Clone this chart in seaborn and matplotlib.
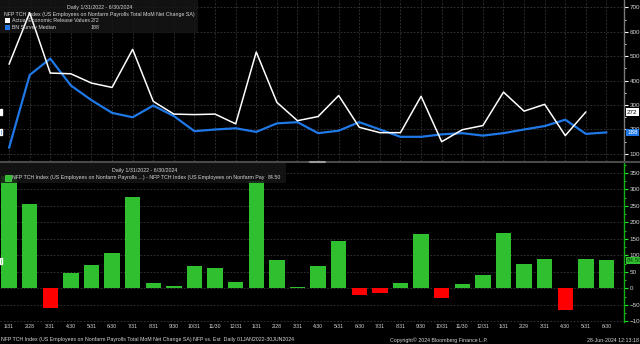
import numpy as np
import pandas as pd
import matplotlib
matplotlib.use('Agg')
import matplotlib.pyplot as plt
import seaborn as sns
from matplotlib.patches import Rectangle
from matplotlib.ticker import MultipleLocator

months = ['1/31', '2/28', '3/31', '4/30', '5/31', '6/30', '7/31', '8/31', '9/30', '10/31', '11/30', '12/31',
          '1/31', '2/28', '3/31', '4/30', '5/31', '6/30', '7/31', '8/31', '9/30', '10/31', '11/30', '12/31',
          '1/31', '2/29', '3/31', '4/30', '5/31', '6/30']
actual = [467, 678, 431, 428, 390, 372, 528, 315, 263, 261, 263, 223,
          517, 311, 236, 253, 339, 209, 187, 187, 336, 150, 199, 216,
          353, 275, 303, 175, 272, np.nan]
survey = [125, 423, 490, 380, 320, 268, 250, 298, 255, 193, 200, 205,
          190, 225, 230, 185, 195, 230, 200, 170, 170, 180, 185, 175,
          185, 200, 214, 240, 182, 188]
surprise = [341, 255, -59, 47, 71, 106, 278, 17, 8, 67, 63, 18,
            325, 85, 5, 67, 144, -21, -13, 17, 166, -30, 14, 41,
            168, 75, 89, -65, 90, 84.5]

sns.set_style('dark')
plt.rcParams['font.family'] = ['Liberation Sans', 'DejaVu Sans']

idx = np.arange(len(months))
df = pd.DataFrame({'idx': idx, 'actual': actual, 'survey': survey, 'surprise': surprise})
df['sign'] = np.where(df['surprise'] >= 0, 'pos', 'neg')

W, H = 640, 344
fig = plt.figure(figsize=(6.4, 3.44), dpi=100, facecolor='black')

def fx(px):
    return px / W

def fy(py):
    return 1 - py / H

ax_right = 624
axt = fig.add_axes([0, fy(161), fx(ax_right), 161 / H])
axb = fig.add_axes([0, fy(322), fx(ax_right), 159 / H])

GRID = '#3a3a3a'
TXT = '#d8d8d8'
FS = 3.8     # legend / footer text
FT = 4.5     # y tick labels
FX = 3.7     # x tick labels
BLUE = '#1f78e6'
GREEN = '#2fbf2f'

for ax in (axt, axb):
    ax.set_facecolor('black')
    for s in ['top', 'left', 'bottom']:
        ax.spines[s].set_visible(False)
    ax.yaxis.tick_right()
    ax.grid(True, color=GRID, linestyle=(0, (2, 2)), linewidth=0.6)
    ax.set_axisbelow(True)

# ---- top panel: lines
sns.lineplot(data=df, x='idx', y='survey', ax=axt, color=BLUE, linewidth=1.6, zorder=3)
sns.lineplot(data=df, x='idx', y='actual', ax=axt, color='white', linewidth=1.1, zorder=4)
axt.set_ylim(71, 730)
axt.set_xlim(-0.44, 29.85)
axt.set_xticks(idx)
axt.tick_params(axis='x', length=0, labelbottom=False)
axt.set_yticks(np.arange(100, 701, 100))
axt.yaxis.set_minor_locator(MultipleLocator(50))
axt.tick_params(axis='y', which='major', colors='white', labelcolor=TXT, length=3, width=0.8,
                labelsize=FT, pad=1, direction='out')
axt.tick_params(axis='y', which='minor', colors='white', length=1.5, width=0.6)
axt.spines['right'].set_color('#7a7a7a')
axt.spines['right'].set_linewidth(1.0)
axt.set_xlabel('')
axt.set_ylabel('')

# legend box top
axt.add_patch(Rectangle((0, 1 - 33 / 161), 198 / ax_right, 33 / 161, transform=axt.transAxes,
                        facecolor='#161616', edgecolor='none', alpha=0.85, zorder=2.5))

def ttext(x, y, s, **kw):
    fig.text(fx(x), fy(y), s, color=TXT, fontsize=FS, va='center', **kw)

ttext(100, 7.5, 'Daily 1/31/2022 - 6/30/2024', ha='center')
ttext(4, 14.5, 'NFP TCH Index (US Employees on Nonfarm Payrolls Total MoM Net Change SA)', ha='left')
fig.patches.append(Rectangle((fx(5), fy(23.3)), fx(5), 5 / H, transform=fig.transFigure,
                             facecolor='white', edgecolor='none'))
ttext(12, 20.7, 'Actual Economic Release Values', ha='left')
ttext(91, 20.7, '272', ha='left')
fig.patches.append(Rectangle((fx(5), fy(29.8)), fx(5), 5 / H, transform=fig.transFigure,
                             facecolor=BLUE, edgecolor='none'))
ttext(12, 27.3, 'BN Survey Median', ha='left')
ttext(91, 27.3, '188', ha='left')

# ---- bottom panel: bars
sns.barplot(data=df, x='idx', y='surprise', hue='sign', dodge=False,
            palette={'pos': GREEN, 'neg': '#ff0000'}, width=0.75, ax=axb,
            legend=False, edgecolor='none', saturation=1, zorder=3)
axb.set_ylim(-102, 380)
axb.set_xlim(-0.44, 29.85)
axb.set_xticks(idx)
axb.set_xticklabels(months)
axb.tick_params(axis='x', length=0, labelsize=FX, labelcolor=TXT, pad=1.5)
axb.set_yticks(np.arange(-100, 351, 50))
axb.yaxis.set_minor_locator(MultipleLocator(25))
axb.tick_params(axis='y', which='major', colors='#22dd22', labelcolor=TXT, length=3, width=0.8,
                labelsize=FT, pad=1, direction='out')
axb.tick_params(axis='y', which='minor', colors='#22dd22', length=1.5, width=0.6)
axb.spines['right'].set_color('#10b010')
axb.spines['right'].set_linewidth(1.0)
axb.set_xlabel('')
axb.set_ylabel('')

axb.add_patch(Rectangle((0, 1 - 20 / 159), 286 / ax_right, 20 / 159, transform=axb.transAxes,
                        facecolor='#161616', edgecolor='none', alpha=0.85, zorder=4))
ttext(145, 170.5, 'Daily 1/31/2022 - 6/30/2024', ha='center')
fig.patches.append(Rectangle((fx(5), fy(180.5)), fx(6), 6 / H, transform=fig.transFigure,
                             facecolor=GREEN, edgecolor='#55dd55', linewidth=0.5))
ttext(12, 177.5, 'NFP TCH Index (US Employees on Nonfarm Payrolls ...) - NFP TCH Index (US Employees on Nonfarm Pay', ha='left')
ttext(268, 177.5, '84.50', ha='left')

# separator between panels
fig.lines.append(plt.Line2D([0, 1], [fy(162), fy(162)], transform=fig.transFigure,
                            color='#4a4a4a', linewidth=1.5))
fig.lines.append(plt.Line2D([fx(310), fx(325)], [fy(162), fy(162)], transform=fig.transFigure,
                            color='#9a9a9a', linewidth=1.5))

# right-side value tags
def tag(y, s, fc, tc):
    fig.text(fx(627), fy(y), s, fontsize=FT, color=tc, va='center', ha='left',
             bbox=dict(boxstyle='square,pad=0.2', facecolor=fc, edgecolor='none'))

tag(112, '272', 'white', 'black')
tag(132.5, '188', BLUE, 'white')
tag(260.5, '84.50', GREEN, '#0a3a0a')

# left edge marks
fig.patches.append(Rectangle((0, fy(115)), fx(2), 6 / H, transform=fig.transFigure, facecolor='white'))
fig.patches.append(Rectangle((0, fy(135.5)), fx(2), 6 / H, transform=fig.transFigure, facecolor=BLUE))
fig.patches.append(Rectangle((0, fy(263.5)), fx(2), 6 / H, transform=fig.transFigure, facecolor=GREEN))

# footer
ttext(1, 340, 'NFP TCH Index (US Employees on Nonfarm Payrolls Total MoM Net Change SA) NFP vs. Est  Daily 01JAN2022-30JUN2024', ha='left')
ttext(390, 340, 'Copyright\u00a9 2024 Bloomberg Finance L.P.', ha='left')
ttext(639, 340, '28-Jun-2024 12:13:18', ha='right')

fig.savefig('out.png', dpi=100, facecolor='black')
